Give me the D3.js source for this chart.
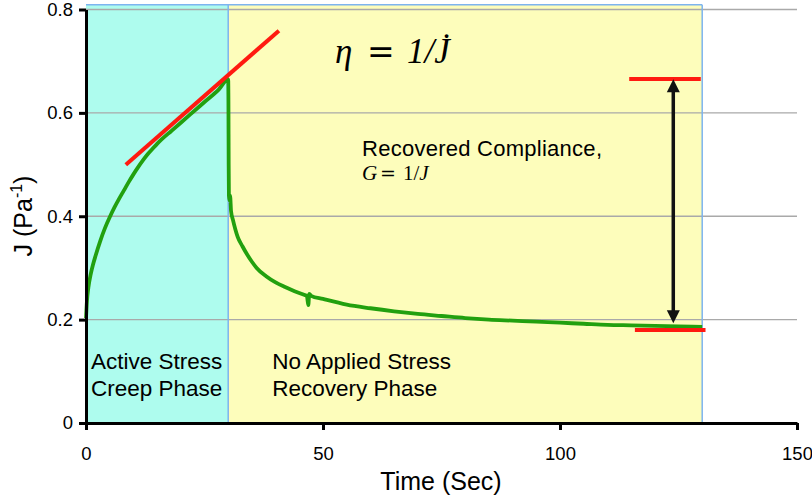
<!DOCTYPE html>
<html><head><meta charset="utf-8">
<script src="https://cdn.jsdelivr.net/npm/d3@7"></script>
<style>body{margin:0;background:#fff}svg{display:block}</style>
</head><body>
<svg id="c" width="812" height="499"></svg>
<script>
// ---- data ----
const timeS = [0,0.2,0.5,1,1.5,2,3,4,5,6,7,8,9,10,11,12,13,14,15,16,18,20,22,25,28,30,
  30.05,30.1,30.15,30.3,30.4,30.6,31,31.5,32,33,34,35,36,38,40,42,44,46,46.6,46.9,47.1,47.5,
  50,55,60,65,70,75,80,85,90,95,100,105,110,115,120,125,130];
const complianceJ = [0.203,0.236,0.262,0.288,0.307,0.323,0.352,0.377,0.398,0.417,0.434,0.45,0.466,0.481,0.495,0.508,0.52,0.53,0.54,0.549,0.565,0.581,0.597,0.621,0.645,0.665,
  0.62,0.5,0.44,0.43,0.44,0.41,0.393,0.375,0.36,0.342,0.326,0.312,0.3,0.284,0.272,0.263,0.255,0.248,0.246,0.228,0.25,0.246,
  0.24,0.229,0.222,0.216,0.211,0.207,0.203,0.2,0.198,0.196,0.194,0.192,0.19,0.189,0.188,0.187,0.186];
const phaseNames = ["Active Stress|Creep Phase","No Applied Stress|Recovery Phase"];
const phaseStart = [0,30];
const phaseEnd = [30,130];
const phaseTop = 0.809;
const tangentT = [8.4,40.7];
const tangentJ = [0.4996,0.759];
const levelT0 = [114.6,115.8];
const levelT1 = [129.7,130.7];
const levelJ = [0.6655,0.18];
const arrowT = 123.9;
const arrowJ = [0.665,0.193];
const xTicks = [0,50,100,150];
const yTicks = [0,0.2,0.4,0.6,0.8];

const svg = d3.select("#c");
const x = d3.scaleLinear().domain([0,150]).range([86,797]);
const y = d3.scaleLinear().domain([0,0.8]).range([423,9.5]);
const phaseFill = ["#aefcee","#fdfdbb"];

// phase backgrounds
svg.selectAll("rect.phase").data(phaseStart).join("rect").attr("class","phase")
  .attr("x",(d,i)=>x(d)).attr("width",(d,i)=>x(phaseEnd[i])-x(d))
  .attr("y",y(phaseTop)).attr("height",y(0)-y(phaseTop))
  .attr("fill",(d,i)=>phaseFill[i]);

// grid
svg.selectAll("line.grid").data(yTicks.filter(d=>d>0)).join("line").attr("class","grid")
  .attr("x1",x(0)).attr("x2",x(150)).attr("y1",d=>y(d)).attr("y2",d=>y(d))
  .attr("stroke","#a9a9a9").attr("stroke-width",1.3);

// phase borders
const bc = "#7db4ef";
svg.append("line").attr("x1",x(0)).attr("x2",x(130)).attr("y1",y(phaseTop)).attr("y2",y(phaseTop)).attr("stroke",bc).attr("stroke-width",1.5);
svg.append("line").attr("x1",x(30)).attr("x2",x(30)).attr("y1",y(phaseTop)).attr("y2",y(0)).attr("stroke",bc).attr("stroke-width",1.5);
svg.append("line").attr("x1",x(130)).attr("x2",x(130)).attr("y1",y(phaseTop)).attr("y2",y(0)).attr("stroke",bc).attr("stroke-width",1.5);

// curve
const line = d3.line().x(d=>x(d[0])).y(d=>y(d[1])).curve(d3.curveMonotoneX);
svg.append("path").datum(timeS.map((t,i)=>[t,complianceJ[i]]))
  .attr("d",line).attr("fill","none").attr("stroke","#22a00f").attr("stroke-width",3.8)
  .attr("stroke-linejoin","round");

// red lines
const red = "#ff1a10";
svg.append("line").attr("x1",x(tangentT[0])).attr("y1",y(tangentJ[0])).attr("x2",x(tangentT[1])).attr("y2",y(tangentJ[1]))
  .attr("stroke",red).attr("stroke-width",4);
svg.selectAll("line.level").data(levelJ).join("line").attr("class","level")
  .attr("x1",(d,i)=>x(levelT0[i])).attr("x2",(d,i)=>x(levelT1[i])).attr("y1",d=>y(d)).attr("y2",d=>y(d))
  .attr("stroke",red).attr("stroke-width",4);

// double arrow
const ax = x(arrowT), ay0 = y(arrowJ[0]), ay1 = y(arrowJ[1]);
svg.append("line").attr("x1",ax).attr("x2",ax).attr("y1",ay0+10).attr("y2",ay1-10).attr("stroke","#111").attr("stroke-width",3.5);
svg.append("path").attr("d",`M${ax},${ay0}L${ax-6.5},${ay0+13}L${ax+6.5},${ay0+13}Z`).attr("fill","#111");
svg.append("path").attr("d",`M${ax},${ay1}L${ax-6.5},${ay1-13}L${ax+6.5},${ay1-13}Z`).attr("fill","#111");

// axes
const sans = "'Liberation Sans', Arial, sans-serif";
const serif = "'Liberation Serif', 'Times New Roman', serif";
const fmt = d=> d===0 ? "0" : d3.format(".1f")(d);
const gx = svg.append("g").attr("transform",`translate(0,${y(0)})`)
  .call(d3.axisBottom(x).tickValues(xTicks).tickSize(7).tickSizeOuter(0).tickPadding(17).tickFormat(d3.format("d")));
const gy = svg.append("g").attr("transform",`translate(${x(0)},0)`)
  .call(d3.axisLeft(y).tickValues(yTicks).tickSize(7).tickSizeOuter(0).tickPadding(6).tickFormat(fmt));
[gx,gy].forEach(g=>{
  g.select(".domain").attr("stroke","#000").attr("stroke-width",3);
  g.selectAll(".tick line").attr("stroke","#000").attr("stroke-width",3);
  g.selectAll("text").attr("font-family",sans).attr("font-size",18.5).attr("fill","#000");
});

// axis titles
svg.append("text").attr("x",441).attr("y",490).attr("text-anchor","middle")
  .attr("font-family",sans).attr("font-size",25).text("Time (Sec)");
const yt = svg.append("text").attr("transform","translate(32,216) rotate(-90)").attr("text-anchor","middle")
  .attr("font-family",sans).attr("font-size",25);
yt.append("tspan").text("J (Pa");
yt.append("tspan").attr("font-size",16).attr("dy",-10).text("-1");
yt.append("tspan").attr("dy",10).text(")");

// phase labels
phaseNames.forEach((n,i)=>{
  const lines = n.split("|");
  const tx = i===0 ? x(phaseStart[i])+5 : x(phaseStart[i])+44;
  lines.forEach((l,k)=>{
    svg.append("text").attr("x",tx).attr("y",369+k*27).attr("font-family",sans).attr("font-size",22.5).text(l);
  });
});

// formula
const eq = svg.append("text").attr("x",335).attr("y",63).attr("font-family",serif).attr("font-size",35);
eq.append("tspan").attr("font-style","italic").text("η");
eq.append("tspan").attr("x",367).attr("font-family","'DejaVu Serif', serif").attr("font-size",33).text("=");
eq.append("tspan").attr("x",407).attr("font-style","italic").text("1/J\u0307");

svg.append("text").attr("x",362).attr("y",156).attr("font-family",sans).attr("font-size",22)
  .attr("textLength",240).attr("lengthAdjust","spacing").text("Recovered Compliance,");
const g2 = svg.append("text").attr("x",362).attr("y",180).attr("font-family",serif).attr("font-size",21);
g2.append("tspan").attr("font-style","italic").text("G");
g2.append("tspan").attr("x",380).attr("font-family","'DejaVu Serif', serif").attr("font-size",19).text("=");
g2.append("tspan").attr("x",403).text("1/");
g2.append("tspan").attr("font-style","italic").text("J");
</script>
</body></html>
